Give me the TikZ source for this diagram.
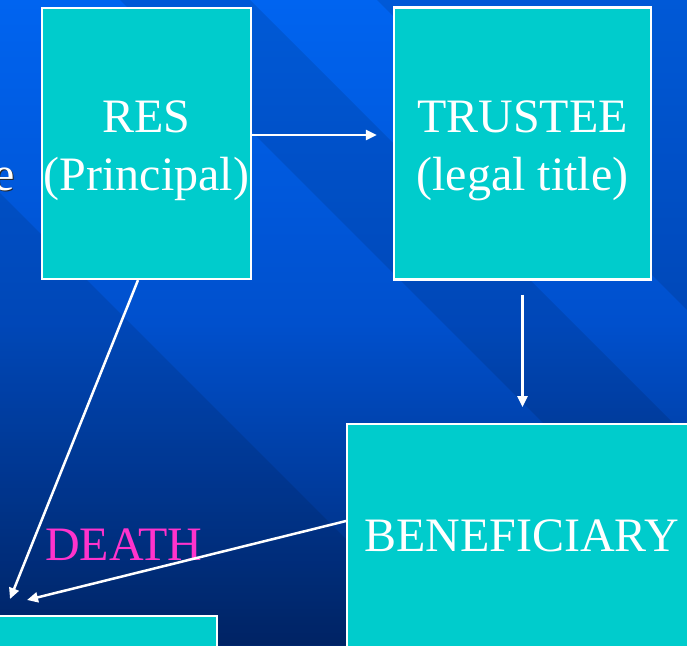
\documentclass[tikz,border=0pt]{standalone}
\usepackage{fontspec}
\setmainfont{Liberation Serif}
\usetikzlibrary{arrows.meta,positioning}
\definecolor{boxcyan}{RGB}{0,204,204}
\definecolor{deathpink}{RGB}{255,51,204}
\definecolor{bgtop}{RGB}{0,100,240}
\definecolor{bgmid}{RGB}{0,80,205}
\definecolor{bgbot}{RGB}{0,40,112}

\begin{document}
\begin{tikzpicture}[x=1pt,y=-1pt,
            box/.style={draw=white,line width=2.2pt,fill=boxcyan,inner sep=0pt},
            boxtext/.style={text=white,font=\fontsize{48}{58}\selectfont,align=center,inner sep=0pt},
            link/.style={draw=white,line width=2.5pt,-{Triangle[length=11pt,width=10pt]}}]
            \useasboundingbox (0,0) rectangle (687,645);
            \shade[top color=bgtop,bottom color=bgbot,middle color=bgmid] (0,0) rectangle (687,645);
            \fill[black,opacity=0.1] (377,0) -- (687,0) -- (687,310) -- cycle;
            \fill[black,opacity=0.1] (120,0) -- (250,0) -- (687,437) -- (687,567) -- cycle;
            \fill[black,opacity=0.1] (0,193) -- (452,645) -- (0,645) -- cycle;

            \node[boxtext,text=black!85,anchor=base east] at (16.5,191.5) {e};
            \node[boxtext,anchor=base east] (tail) at (15,190) {e};

            \node[box,minimum width=209pt,minimum height=271pt] (res) at (146.5,143.5) {};
            \node[box,minimum width=257pt,minimum height=272pt] (trustee) at (522.5,143.5) {};
            \node[box,minimum width=349pt,minimum height=290pt,anchor=north west] (benef) at (346,423) {};
            \node[box,minimum width=290pt,minimum height=100pt,anchor=north east] (heir) at (218,615) {};

            \node[boxtext] (restext) at ([yshift=-7pt]res.center) {RES\\(Principal)};
            \node[boxtext] (trusteetext) at ([yshift=-7pt]trustee.center) {TRUSTEE\\(legal title)};
            \node[boxtext,anchor=base] (beneftext) at ([yshift=-128pt]benef.north) {BENEFICIARY};
            \node[boxtext,text=deathpink,anchor=base west] (death) at (45,560) {DEATH};

            \coordinate (tipa) at (10,599);
            \coordinate (tipb) at (27,600);

            \draw[link,shorten >=16pt] ([yshift=8.5pt]res.east) -- ([yshift=8.5pt]trustee.west);
            \draw[link,shorten <=14pt,shorten >=16pt] (trustee.south) -- (trustee.south |- benef.north);
            \draw[link] ([xshift=-8.5pt]res.south) -- (tipa);
            \draw[link] ([yshift=-98pt]benef.north west) -- (tipb);
        \end{tikzpicture}
\end{document}
